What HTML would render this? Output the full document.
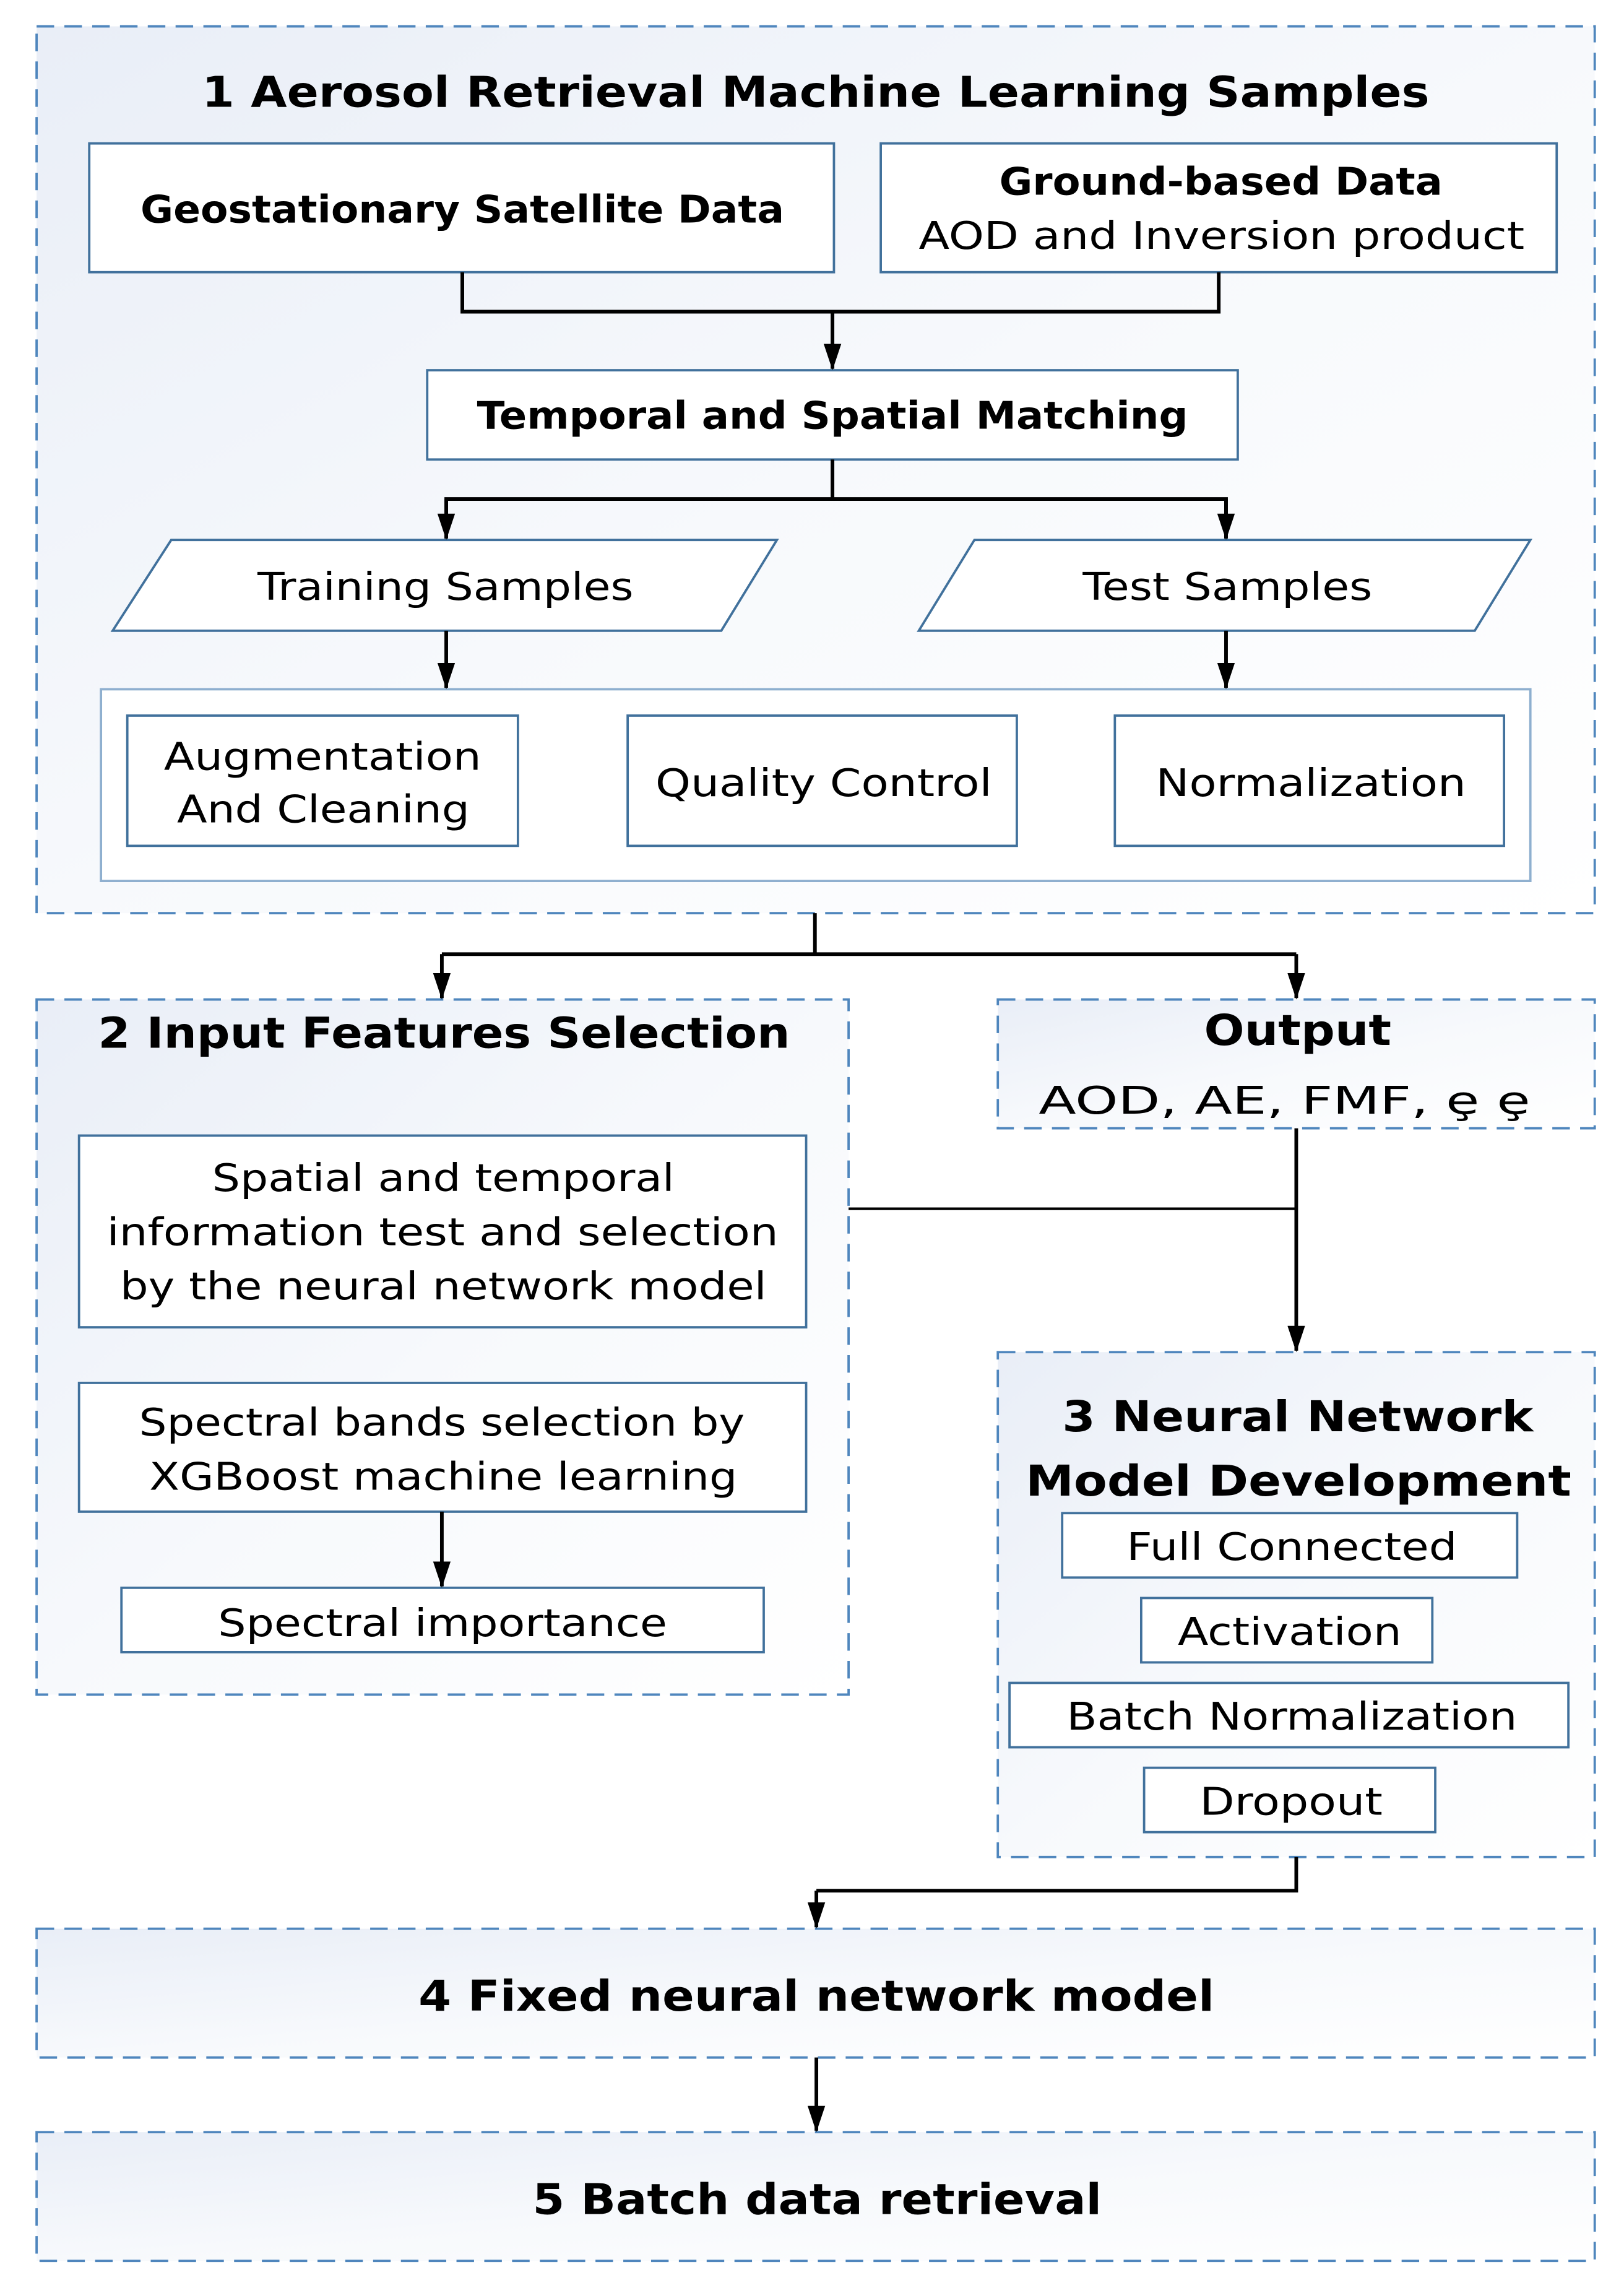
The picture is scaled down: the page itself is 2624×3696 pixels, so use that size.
<!DOCTYPE html>
<html><head><meta charset="utf-8"><style>html,body{margin:0;padding:0;background:#fff}svg{display:block}</style></head><body>
<svg width="2624" height="3696" viewBox="0 0 1110 1563.5" xmlns="http://www.w3.org/2000/svg" font-family="'DejaVu Sans','Liberation Sans',sans-serif">
<defs>
<linearGradient id="g" x1="0" y1="0" x2="1" y2="1"><stop offset="0" stop-color="#e9eef7"/><stop offset="0.5" stop-color="#f7f9fc"/><stop offset="1" stop-color="#ffffff"/></linearGradient>
<marker id="a" markerWidth="18" markerHeight="12" refX="17" refY="6" orient="auto" markerUnits="userSpaceOnUse"><path d="M0,0 L18,6 L0,12 Z" fill="#000"/></marker>
</defs>
<g fill="url(#g)" stroke="#4f86bd" stroke-width="1.6" stroke-dasharray="12,7">
<rect x="25" y="18" width="1065" height="606"/>
<rect x="25" y="683" width="555" height="475"/>
<rect x="682" y="683" width="408" height="88"/>
<rect x="682" y="924" width="408" height="345"/>
<rect x="25" y="1318" width="1065" height="88"/>
<rect x="25" y="1457" width="1065" height="88"/>
</g>
<g fill="#fff" stroke="#41719c" stroke-width="1.6">
<rect x="61" y="98" width="509" height="88"/>
<rect x="602" y="98" width="462" height="88"/>
<rect x="292" y="253" width="554" height="61"/>
<polygon points="117,369 531,369 493,431 77,431"/>
<polygon points="666,369 1046,369 1008,431 628,431"/>
<rect x="69" y="471" width="977" height="131" stroke="#8eafcf"/>
<rect x="87" y="489" width="267" height="89"/>
<rect x="429" y="489" width="266" height="89"/>
<rect x="762" y="489" width="266" height="89"/>
<rect x="54" y="776" width="497" height="131"/>
<rect x="54" y="945" width="497" height="88"/>
<rect x="83" y="1085" width="439" height="44"/>
<rect x="726" y="1034" width="311" height="44"/>
<rect x="780" y="1092" width="199" height="44"/>
<rect x="690" y="1150" width="382" height="44"/>
<rect x="782" y="1208" width="199" height="44"/>
</g>
<g fill="none" stroke="#000" stroke-width="2.5">
<polyline points="316,186 316,213 833,213 833,186"/>
<line x1="569" y1="213" x2="569" y2="252" marker-end="url(#a)"/>
<line x1="569" y1="314" x2="569" y2="341"/>
<polyline points="305,368 305,341 838,341 838,368"/>
<line x1="305" y1="341" x2="305" y2="368" marker-end="url(#a)"/>
<line x1="838" y1="341" x2="838" y2="368" marker-end="url(#a)"/>
<line x1="305" y1="431" x2="305" y2="470" marker-end="url(#a)"/>
<line x1="838" y1="431" x2="838" y2="470" marker-end="url(#a)"/>
<line x1="557" y1="624" x2="557" y2="652"/>
<line x1="302" y1="652" x2="886" y2="652"/>
<line x1="302" y1="652" x2="302" y2="682" marker-end="url(#a)"/>
<line x1="886" y1="652" x2="886" y2="682" marker-end="url(#a)"/>
<line x1="580" y1="826" x2="886" y2="826" stroke-width="1.8"/>
<line x1="886" y1="771" x2="886" y2="923" marker-end="url(#a)"/>
<line x1="302" y1="1033" x2="302" y2="1084" marker-end="url(#a)"/>
<polyline points="886,1269 886,1292 558,1292"/>
<line x1="558" y1="1292" x2="558" y2="1317" marker-end="url(#a)"/>
<line x1="558" y1="1406" x2="558" y2="1456" marker-end="url(#a)"/>
</g>
<g fill="#000">
<g font-weight="bold" font-size="29">
<text x="138" y="73" textLength="839" lengthAdjust="spacingAndGlyphs">1 Aerosol Retrieval Machine Learning Samples</text>
<text x="67" y="716" textLength="473" lengthAdjust="spacingAndGlyphs">2 Input Features Selection</text>
<text x="823" y="714" textLength="128" lengthAdjust="spacingAndGlyphs">Output</text>
<text x="726" y="978" textLength="322" lengthAdjust="spacingAndGlyphs">3 Neural Network</text>
<text x="701" y="1022" textLength="373" lengthAdjust="spacingAndGlyphs">Model Development</text>
<text x="286" y="1374" textLength="544" lengthAdjust="spacingAndGlyphs">4 Fixed neural network model</text>
<text x="364" y="1513" textLength="389" lengthAdjust="spacingAndGlyphs">5 Batch data retrieval</text>
</g>
<g font-weight="bold" font-size="26">
<text x="96" y="152" textLength="440" lengthAdjust="spacingAndGlyphs">Geostationary Satellite Data</text>
<text x="683" y="133" textLength="303" lengthAdjust="spacingAndGlyphs">Ground-based Data</text>
<text x="326" y="293" textLength="486" lengthAdjust="spacingAndGlyphs">Temporal and Spatial Matching</text>
</g>
<g font-size="26">
<text x="628" y="170" textLength="414" lengthAdjust="spacingAndGlyphs">AOD and Inversion product</text>
<text x="176" y="410" textLength="257" lengthAdjust="spacingAndGlyphs">Training Samples</text>
<text x="740" y="410" textLength="198" lengthAdjust="spacingAndGlyphs">Test Samples</text>
<text x="112" y="526" textLength="217" lengthAdjust="spacingAndGlyphs">Augmentation</text>
<text x="121" y="562" textLength="200" lengthAdjust="spacingAndGlyphs">And Cleaning</text>
<text x="448" y="544" textLength="230" lengthAdjust="spacingAndGlyphs">Quality Control</text>
<text x="790" y="544" textLength="212" lengthAdjust="spacingAndGlyphs">Normalization</text>
<text x="710" y="761" textLength="336" lengthAdjust="spacingAndGlyphs">AOD, AE, FMF, ȩ  ȩ</text>
<text x="145" y="814" textLength="316" lengthAdjust="spacingAndGlyphs">Spatial and temporal</text>
<text x="73" y="851" textLength="459" lengthAdjust="spacingAndGlyphs">information test and selection</text>
<text x="82" y="888" textLength="442" lengthAdjust="spacingAndGlyphs">by the neural network model</text>
<text x="95" y="981" textLength="414" lengthAdjust="spacingAndGlyphs">Spectral bands selection by</text>
<text x="102" y="1018" textLength="402" lengthAdjust="spacingAndGlyphs">XGBoost machine learning</text>
<text x="149" y="1118" textLength="307" lengthAdjust="spacingAndGlyphs">Spectral importance</text>
<text x="770" y="1066" textLength="226" lengthAdjust="spacingAndGlyphs">Full Connected</text>
<text x="805" y="1124" textLength="153" lengthAdjust="spacingAndGlyphs">Activation</text>
<text x="729" y="1182" textLength="308" lengthAdjust="spacingAndGlyphs">Batch Normalization</text>
<text x="820" y="1240" textLength="125" lengthAdjust="spacingAndGlyphs">Dropout</text>
</g>
</g>
</svg>
</body></html>
